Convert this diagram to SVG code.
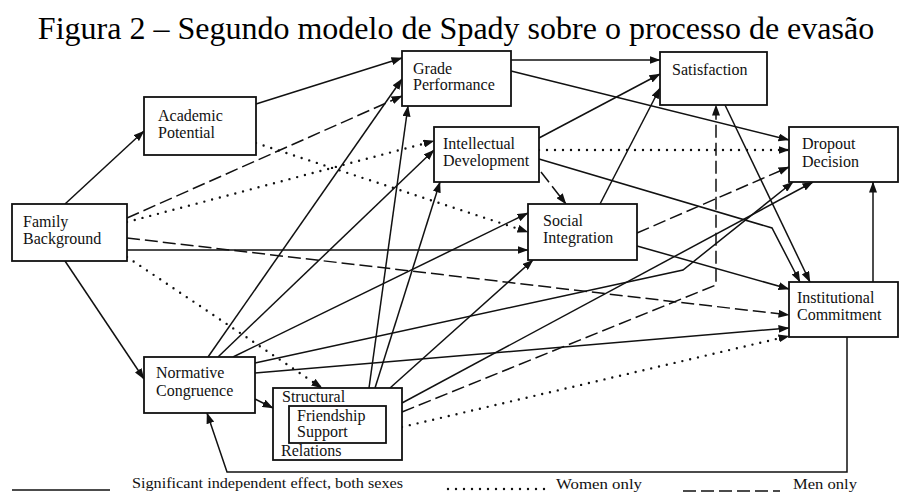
<svg xmlns="http://www.w3.org/2000/svg" width="901" height="497" viewBox="0 0 901 497">
  <defs>
    <marker id="arrow" markerWidth="11" markerHeight="8" refX="10.5" refY="4" orient="auto" markerUnits="userSpaceOnUse">
      <path d="M0,0 L11,4 L0,8 z" fill="#111"/>
    </marker>
    <style>
      .box { fill: #fff; stroke: #111; stroke-width: 1.8; }
      .lbl { font-family: "Liberation Serif", "Times New Roman", serif; font-size: 16px; fill: #111; }
      .title { font-family: "Liberation Serif", "Times New Roman", serif; font-size: 32px; fill: #000; }
      .leg { font-family: "Liberation Serif", "Times New Roman", serif; font-size: 14px; fill: #111; }
      .c { fill: none; stroke: #111; stroke-width: 1.5; }
      .dash { stroke-dasharray: 13 5; }
      .dot { stroke-width: 2.4; stroke-dasharray: 0 8; stroke-linecap: round; }
      .arr { marker-end: url(#arrow); }
    </style>
  </defs>

  <rect width="901" height="497" fill="#fff"/>

  <text class="title" x="456" y="39" text-anchor="middle">Figura 2 – Segundo modelo de Spady sobre o processo de evasão</text>

  <!-- connectors -->
  <g id="connectors">
    <!-- Family Background -->
    <path class="c arr" d="M65,204 L144,131"/>
    <path class="c dash arr" d="M127,218 L402,96"/>
    <path class="c dot arr" d="M127,222 L434,141"/>
    <path class="c arr" d="M127,250 L528,250"/>
    <path class="c dash arr" d="M127,238 L789,315"/>
    <path class="c arr" d="M65,261 L144,379"/>
    <path class="c dot arr" d="M127,257 L322,388"/>
    <!-- Academic Potential -->
    <path class="c arr" d="M256,104 L402,58"/>
    <path class="c dot arr" d="M256,143 L528,232"/>
    <!-- Grade Performance -->
    <path class="c arr" d="M511,60 L660,60"/>
    <path class="c arr" d="M511,71 L789,140"/>
    <!-- Intellectual Development -->
    <path class="c arr" d="M539,138 L660,74"/>
    <path class="c dot arr" d="M539,150 L789,150"/>
    <path class="c dash arr" d="M541,172 L566,204"/>
    <path class="c arr" d="M539,159 L772,228 L800,282"/>
    <!-- Satisfaction -->
    <path class="c arr" d="M725,105 L810,282"/>
    <!-- Social Integration -->
    <path class="c arr" d="M600,204 L660,88"/>
    <path class="c dash arr" d="M637,233 L789,167"/>
    <path class="c arr" d="M637,246 L789,289"/>
    <!-- Institutional Commitment -->
    <path class="c arr" d="M873,282 L873,182"/>
    <path class="c arr" d="M847,337 L847,472 L227,472 L207,413"/>
    <!-- Normative Congruence -->
    <path class="c arr" d="M255,399 L273,408"/>
    <path class="c arr" d="M208,357 L402,79"/>
    <path class="c arr" d="M218,357 L434,150"/>
    <path class="c arr" d="M233,357 L528,213"/>
    <path class="c arr" d="M255,363 L683,270 L793,182"/>
    <path class="c arr" d="M255,373 L789,328"/>
    <!-- Structural Relations -->
    <path class="c arr" d="M369,388 L408,106"/>
    <path class="c arr" d="M375,388 L440,182"/>
    <path class="c arr" d="M390,388 L533,260"/>
    <path class="c arr" d="M402,403 L813,182"/>
    <path class="c dash arr" d="M402,412 L716,285 L716,105"/>
    <path class="c dot arr" d="M402,427 L789,336"/>
  </g>

  <!-- nodes -->
  <g id="academic-potential">
    <rect class="box" x="144" y="97" width="112" height="58"/>
    <text class="lbl" x="158" y="121">Academic<tspan x="158" dy="17">Potential</tspan></text>
  </g>
  <g id="grade-performance">
    <rect class="box" x="402" y="51" width="109" height="55"/>
    <text class="lbl" x="413" y="74">Grade<tspan x="413" dy="16">Performance</tspan></text>
  </g>
  <g id="satisfaction">
    <rect class="box" x="660" y="52" width="107" height="53"/>
    <text class="lbl" x="672" y="75">Satisfaction</text>
  </g>
  <g id="intellectual-development">
    <rect class="box" x="434" y="127" width="105" height="55"/>
    <text class="lbl" x="443" y="149">Intellectual<tspan x="443" dy="17">Development</tspan></text>
  </g>
  <g id="dropout-decision">
    <rect class="box" x="789" y="127" width="109" height="55"/>
    <text class="lbl" x="802" y="149">Dropout<tspan x="802" dy="18">Decision</tspan></text>
  </g>
  <g id="family-background">
    <rect class="box" x="12" y="204" width="115" height="57"/>
    <text class="lbl" x="23" y="227">Family<tspan x="23" dy="17">Background</tspan></text>
  </g>
  <g id="social-integration">
    <rect class="box" x="528" y="204" width="109" height="56"/>
    <text class="lbl" x="543" y="226">Social<tspan x="543" dy="17">Integration</tspan></text>
  </g>
  <g id="institutional-commitment">
    <rect class="box" x="789" y="282" width="109" height="55"/>
    <text class="lbl" x="797" y="303">Institutional<tspan x="797" dy="17">Commitment</tspan></text>
  </g>
  <g id="normative-congruence">
    <rect class="box" x="144" y="357" width="111" height="56"/>
    <text class="lbl" x="156" y="378">Normative<tspan x="156" dy="18">Congruence</tspan></text>
  </g>
  <g id="structural-relations">
    <rect class="box" x="273" y="388" width="129" height="72"/>
    <text class="lbl" x="282" y="402">Structural</text>
    <rect class="box" x="289" y="406" width="97" height="37"/>
    <text class="lbl" x="297" y="421">Friendship<tspan x="297" dy="16">Support</tspan></text>
    <text class="lbl" x="281" y="456">Relations</text>
  </g>

  <!-- legend -->
  <g id="legend">
    <path class="c" d="M12,490 L110,490"/>
    <text class="leg" x="132" y="488" textLength="271" lengthAdjust="spacingAndGlyphs">Significant independent effect, both sexes</text>
    <path class="c dot" d="M448,489 L547,489"/>
    <text class="leg" x="556" y="489" textLength="86" lengthAdjust="spacingAndGlyphs">Women only</text>
    <path class="c dash" d="M683,491 L780,491"/>
    <text class="leg" x="793" y="489" textLength="64" lengthAdjust="spacingAndGlyphs">Men only</text>
  </g>
</svg>
